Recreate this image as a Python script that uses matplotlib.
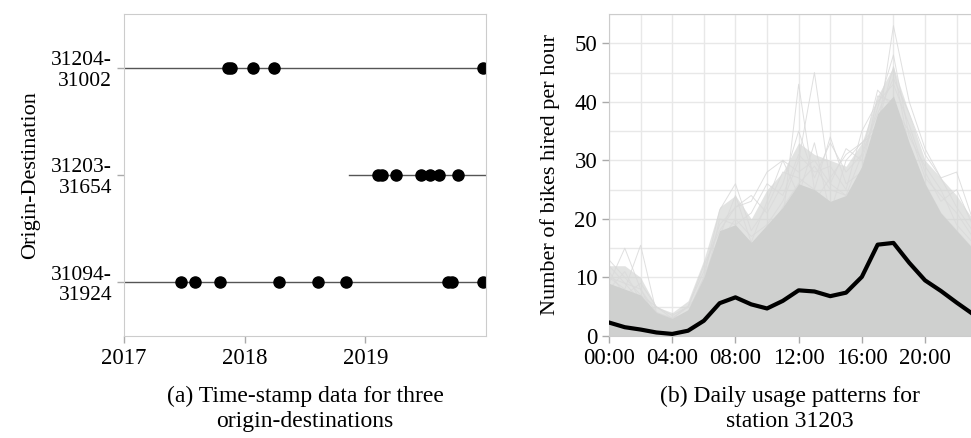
import matplotlib
matplotlib.use("Agg")
import matplotlib.pyplot as plt
import matplotlib.dates as mdates
import pandas as pd

plt.rcParams['font.family'] = ['Liberation Serif', 'DejaVu Serif']
plt.rcParams['font.size'] = 15.5

# (a) trip time stamps for three origin-destination pairs
od_labels = ['31094-\n31924', '31203-\n31654', '31204-\n31002']
od_start = ['2017-01-01', '2018-11-13', '2017-01-01']
od_trips = [
    ['2017-06-23', '2017-08-03', '2017-10-19', '2018-04-15', '2018-08-12',
     '2018-11-03', '2019-09-08', '2019-09-21', '2019-12-23'],
    ['2019-02-08', '2019-02-20', '2019-04-04', '2019-06-19', '2019-07-17',
     '2019-08-12', '2019-10-09'],
    ['2017-11-11', '2017-11-20', '2018-01-27', '2018-04-01', '2019-12-23'],
]
year_ticks = ['2017-01-01', '2018-01-01', '2019-01-01']

# (b) hourly hires at station 31203
hours = list(range(24))
hour_ticks = [0, 4, 8, 12, 16, 20]
hour_labels = ['00:00', '04:00', '08:00', '12:00', '16:00', '20:00']
mean_hires = [2.3, 1.5, 1.1, 0.6, 0.35, 0.9, 2.6, 5.6, 6.6, 5.4, 4.7, 6.0,
              7.8, 7.6, 6.8, 7.4, 10.1, 15.6, 15.9, 12.5, 9.5, 7.7, 5.7, 3.8]
dense_upper = [9, 8, 7, 4, 3, 4.5, 10, 18, 19, 16, 19, 22,
               26, 25, 23, 24, 29, 38, 41, 33, 26, 21, 18, 15]
spread_upper = [12, 12, 10, 5, 4, 6, 13, 22, 24, 20, 25, 28,
                33, 31, 30, 29, 33, 41, 46, 38, 30, 27, 24, 20]
busy_days = [
    [12, 9, 6, 4, 2, 3, 8, 14, 18, 16, 15, 20, 43, 25, 22, 20, 24, 30, 34, 28, 20, 16, 13, 10],
    [9, 15, 8, 3, 2, 4, 9, 16, 20, 17, 19, 23, 30, 45, 26, 24, 27, 33, 36, 29, 22, 18, 15, 12],
    [10, 8, 15.5, 4, 3, 4, 10, 21.5, 26, 18, 22, 28, 27, 25, 34, 26, 28, 41, 40, 30, 25, 20, 17, 14],
    [13, 10, 7, 5, 3.5, 5, 12, 18, 22, 23, 28, 30, 24, 23, 27, 31, 33, 35, 53, 40, 32, 27, 22, 18],
    [7, 6, 5, 3, 2, 4, 9, 15, 18, 14, 17, 22, 26, 29, 25, 24, 31, 38, 44, 38, 31, 27, 28, 20],
    [5, 4, 4, 2, 1, 3, 7, 12, 15, 13, 16, 18, 24, 33, 21, 30, 33, 36, 46, 32, 26, 21, 18, 15],
    [11, 7, 9, 5, 3, 5, 11, 19, 22, 24, 21, 26, 35, 27, 33, 28, 31, 42, 39, 35, 27, 24, 21, 17],
    [8, 11, 6, 3, 2.5, 4, 10, 17, 24, 16, 23, 30, 28, 30, 26, 32, 30, 39, 48, 34, 29, 25, 19, 16],
    [10, 9, 8, 4, 3, 5, 8, 20, 19, 21, 26, 24, 31, 28, 29, 25, 35, 40, 43, 36, 28, 23, 25, 19],
]

spine_col = '#cccccc'
tick_col = '#aaaaaa'

fig = plt.figure(figsize=(9.71, 4.38), dpi=100)

# ---- left panel
ax1 = fig.add_axes([0.1277, 0.2329, 0.3728, 0.7352])
for i, (start, trips) in enumerate(zip(od_start, od_trips)):
    ax1.plot([pd.Timestamp(start), pd.Timestamp('2020-01-01')], [i, i],
             color='#555555', lw=1.0, zorder=1)
    ax1.plot(pd.to_datetime(trips), [i] * len(trips), 'o', color='black',
             ms=8, zorder=2)
ax1.set_xlim(pd.Timestamp('2017-01-01'), pd.Timestamp('2020-01-01'))
ax1.set_ylim(-0.5, 2.5)
ax1.set_xticks(pd.to_datetime(year_ticks))
ax1.xaxis.set_major_formatter(mdates.DateFormatter('%Y'))
ax1.set_yticks(range(3))
ax1.set_yticklabels(od_labels, multialignment='right', linespacing=1.1)
ax1.set_ylabel('Origin-Destination', labelpad=8, fontsize=16)
for s in ax1.spines.values():
    s.set_color(spine_col)
ax1.tick_params(color=tick_col, length=5, width=1)
ax1.tick_params(axis='x', labelsize=16.5)

# ---- right panel
ax2 = fig.add_axes([0.6272, 0.2329, 0.3743, 0.7352])
ax2.set_axisbelow(True)
ax2.fill_between(hours, 0, spread_upper, color='#d0d1d0', alpha=0.6, lw=0, zorder=1)
for day in busy_days:
    ax2.plot(hours, day, color='#dadada', lw=0.7, alpha=0.85, zorder=1.5)
ax2.fill_between(hours, 0, dense_upper, color='#cfd0cf', lw=0, zorder=2)
ax2.plot(hours, mean_hires, color='black', lw=3, solid_joinstyle='round', zorder=3)
ax2.set_xlim(0, 23)
ax2.set_ylim(0, 55)
ax2.set_xticks(hour_ticks)
ax2.set_xticklabels(hour_labels)
ax2.set_xticks(range(0, 24, 2), minor=True)
ax2.set_yticks(range(0, 51, 10))
ax2.set_yticks(range(5, 56, 10), minor=True)
ax2.grid(which='both', color='#e8e8e8', lw=1.0)
ax2.set_ylabel('Number of bikes hired per hour', labelpad=10, fontsize=16)
for s in ax2.spines.values():
    s.set_color(spine_col)
ax2.tick_params(color=tick_col, length=5, width=1, labelsize=16.5)
ax2.tick_params(which='minor', length=0)

fig.text(305 / 971, 1 - 409 / 438, '(a) Time-stamp data for three\norigin-destinations',
         ha='center', va='center', linespacing=1.2, fontsize=17)
fig.text(790 / 971, 1 - 409 / 438, '(b) Daily usage patterns for\nstation 31203',
         ha='center', va='center', linespacing=1.2, fontsize=17)

fig.savefig('out.png', dpi=100)
